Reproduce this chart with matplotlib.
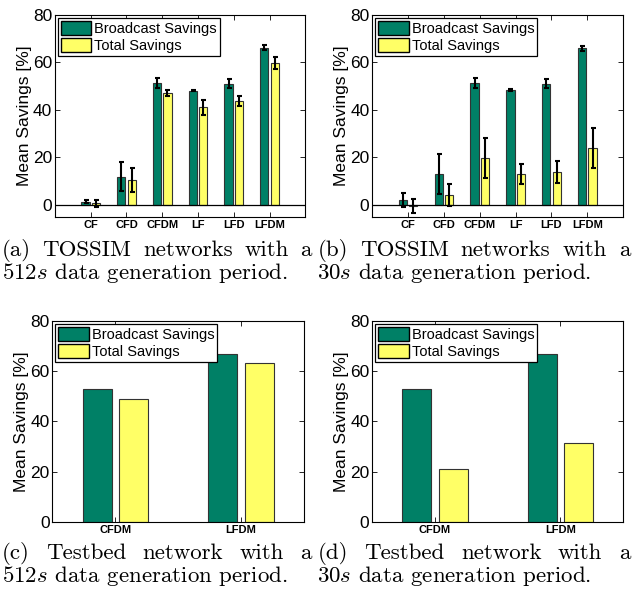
import matplotlib
matplotlib.use("Agg")
import matplotlib.pyplot as plt
import numpy as np

plt.rcParams['font.family'] = ['Liberation Sans', 'DejaVu Sans']
plt.rcParams['mathtext.fontset'] = 'cm'

# ---- data ----
sim_labels = ['CF', 'CFD', 'CFDM', 'LF', 'LFD', 'LFDM']
bed_labels = ['CFDM', 'LFDM']

a_bcast = [1.4, 11.9, 51.2, 48.0, 50.9, 66.1]
a_bcast_err = [0.6, 6.0, 2.0, 0.3, 1.9, 1.0]
a_total = [0.6, 10.5, 47.1, 41.0, 43.8, 59.7]
a_total_err = [1.5, 5.0, 1.1, 3.1, 2.0, 2.5]

b_bcast = [2.1, 13.1, 51.2, 48.4, 50.9, 65.9]
b_bcast_err = [2.8, 8.5, 2.1, 0.4, 1.9, 1.0]
b_total = [-0.5, 4.2, 19.9, 13.0, 13.8, 23.9]
b_total_err = [3.0, 4.7, 8.4, 4.3, 4.8, 8.3]

c_bcast = [52.9, 67.0]
c_total = [48.8, 63.1]
d_bcast = [52.9, 67.0]
d_total = [21.0, 31.3]

captions = [
    ("(a) TOSSIM networks with a", r"512$s$ data generation period."),
    ("(b) TOSSIM networks with a", r"30$s$ data generation period."),
    ("(c) Testbed network with a", r"512$s$ data generation period."),
    ("(d) Testbed network with a", r"30$s$ data generation period."),
]

green = '#008066'
yellow = '#ffff66'

fig = plt.figure(figsize=(6.32, 5.89), dpi=100)

def panel(rect, labels, bc, tot, bc_err=None, tot_err=None, ylim=(0, 80)):
    ax = fig.add_axes(rect)
    x = np.arange(1, len(labels) + 1)
    w = 0.23
    ek = dict(ecolor='black', elinewidth=1.5, capsize=1.8, capthick=1.5)
    ax.bar(x - 0.145, bc, w, color=green, edgecolor='#333333', linewidth=0.8,
           yerr=bc_err, error_kw=ek, label='Broadcast Savings', zorder=2)
    ax.bar(x + 0.145, tot, w, color=yellow, edgecolor='#333333', linewidth=0.8,
           yerr=tot_err, error_kw=ek, label='Total Savings', zorder=2)
    if len(labels) > 2:
        ax.set_xlim(0, len(labels) + 1)
    else:
        ax.set_xlim(0.5, 2.5)
    ax.set_ylim(*ylim)
    if ylim[0] < 0:
        ax.axhline(0, color='black', linewidth=0.9, zorder=3)
    ax.set_xticks(x)
    ax.set_xticklabels(labels, fontsize=8, fontweight='bold')
    ax.set_yticks([0, 20, 40, 60, 80])
    ax.tick_params(axis='y', labelsize=12.5, pad=2)
    ax.tick_params(direction='in', top=True, right=True, length=3.5, width=0.6)
    ax.tick_params(axis='x', pad=2)
    ax.set_ylabel('Mean Savings [%]', fontsize=12.5, labelpad=1)
    for s in ax.spines.values():
        s.set_linewidth(0.8)
    leg = ax.legend(loc='upper left', fontsize=10.5, fancybox=False,
                    framealpha=1, edgecolor='black', borderpad=0.2,
                    handlelength=2.1, handleheight=1.1, handletextpad=0.2,
                    labelspacing=0.15, borderaxespad=0.2)
    leg.get_frame().set_linewidth(0.9)
    for h in leg.legend_handles:
        h.set_edgecolor('black')
        h.set_linewidth(1.0)
    return ax

panel([0.087, 0.632, 0.396, 0.343], sim_labels, a_bcast, a_total,
      a_bcast_err, a_total_err, ylim=(-5, 80))
panel([0.589, 0.632, 0.397, 0.343], sim_labels, b_bcast, b_total,
      b_bcast_err, b_total_err, ylim=(-5, 80))
panel([0.083, 0.114, 0.398, 0.341], bed_labels, c_bcast, c_total)
panel([0.589, 0.114, 0.397, 0.341], bed_labels, d_bcast, d_total)

# ---- captions: first line justified, second line ragged (LaTeX style) ----
renderer = fig.canvas.get_renderer()
cap_font = dict(family='cmr10', fontsize=16.5, va='baseline')

def justify(line, x0, x1, y):
    words = line.split(' ')
    objs = [fig.text(0, y, wd, **cap_font) for wd in words]
    widths = [o.get_window_extent(renderer).width / fig.bbox.width for o in objs]
    gap = (x1 - x0 - sum(widths)) / max(len(words) - 1, 1)
    xx = x0
    for o, wdt in zip(objs, widths):
        o.set_x(xx)
        xx += wdt + gap

cap_pos = [(0.003, 0.493, 1 - 256 / 589, 1 - 279 / 589),
           (0.502, 0.997, 1 - 256 / 589, 1 - 279 / 589),
           (0.003, 0.493, 1 - 559 / 589, 1 - 582 / 589),
           (0.502, 0.997, 1 - 559 / 589, 1 - 582 / 589)]
for (l1, l2), (x0, x1, y1, y2) in zip(captions, cap_pos):
    justify(l1, x0, x1, y1)
    fig.text(x0, y2, l2, **cap_font)

fig.savefig('out.png', dpi=100)
